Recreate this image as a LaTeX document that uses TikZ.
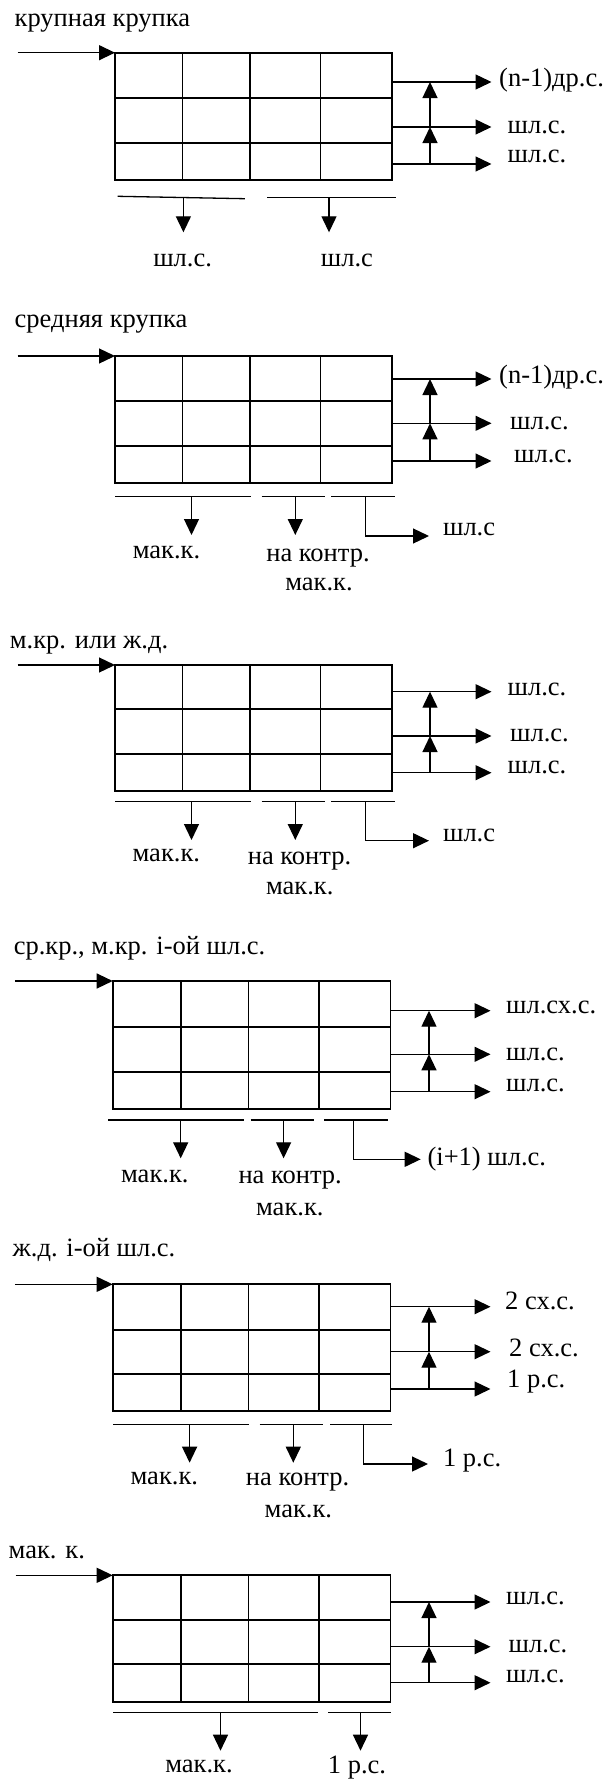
\documentclass[tikz,border=0pt]{standalone}
\usepackage{fontspec}
\setmainfont{Liberation Serif}
\usetikzlibrary{arrows.meta}
\begin{document}
\begin{tikzpicture}[x=1pt,y=-1pt,
  grid/.style={line width=1.7pt},
  flow/.style={line width=1.3pt,-{Triangle[length=16pt,width=15pt]}},
  bar/.style={line width=1.3pt},
  lbl/.style={inner sep=0pt,font=\fontsize{26.5}{30}\selectfont},
]
\fill[white] (0,0) rectangle (606,1785);
\useasboundingbox (0,0) rectangle (606,1785);

% ---------- 1: крупная крупка ----------
\node[lbl,anchor=mid west] (t1) at (14.5,24) {крупная крупка};
\coordinate (in1) at (17.5,52.7);
\coordinate (nw1) at (115,52.7);
\draw[grid] (nw1) rectangle (392,180);
\draw[grid] (182.4,52.7)--(182.4,180) (250,52.7)--(250,180) (320.5,52.7)--(320.5,180)
  (115,98.3)--(392,98.3) (115,143.3)--(392,143.3);
\draw[flow] (in1) -- (nw1);
\coordinate (o1a) at (392,82);    \coordinate (e1a) at (491.5,82);
\coordinate (o1b) at (392,127);   \coordinate (e1b) at (491.5,127);
\coordinate (o1c) at (392,164);   \coordinate (e1c) at (491.5,164);
\draw[flow] (o1a) -- (e1a);
\draw[flow] (o1b) -- (e1b);
\draw[flow] (o1c) -- (e1c);
\coordinate (v1a) at (430,82); \coordinate (v1b) at (430,127); \coordinate (v1c) at (430,164);
\draw[flow] (v1c) -- (v1b);
\draw[flow] (v1b) -- (v1a);
\node[lbl,anchor=mid west] (l1a) at (499,84) {(n-1)др.с.};
\node[lbl,anchor=mid west] (l1b) at (507.5,131) {шл.с.};
\node[lbl,anchor=mid west] (l1c) at (507.5,160) {шл.с.};
\coordinate (s1a) at (117.7,196.3); \coordinate (s1b) at (244.8,198.7);
\coordinate (s1c) at (267.3,197.3); \coordinate (s1d) at (395.5,197.3);
\draw[bar] (s1a) -- (s1b);
\draw[bar] (s1c) -- (s1d);
\coordinate (d1a) at (183.4,197.6); \coordinate (f1a) at (183.4,232.3);
\coordinate (d1b) at (329,197.3);   \coordinate (f1b) at (329,232.3);
\draw[flow] (d1a) -- (f1a);
\draw[flow] (d1b) -- (f1b);
\node[lbl,anchor=mid] (b1a) at (182.6,264) {шл.с.};
\node[lbl,anchor=mid] (b1b) at (347,264) {шл.с};

% ---------- 2: средняя крупка ----------
\node[lbl,anchor=mid west] (t2) at (14.5,325.5) {средняя крупка};
\coordinate (in2) at (17.5,356);
\coordinate (nw2) at (115,356);
\draw[grid] (nw2) rectangle (392,482.7);
\draw[grid] (182.4,356)--(182.4,482.7) (250,356)--(250,482.7) (320.5,356)--(320.5,482.7)
  (115,401)--(392,401) (115,445.7)--(392,445.7);
\draw[flow] (in2) -- (nw2);
\coordinate (o2a) at (392,379);   \coordinate (e2a) at (491.5,379);
\coordinate (o2b) at (392,423.3); \coordinate (e2b) at (491.5,423.3);
\coordinate (o2c) at (392,461);   \coordinate (e2c) at (491.5,461);
\draw[flow] (o2a) -- (e2a);
\draw[flow] (o2b) -- (e2b);
\draw[flow] (o2c) -- (e2c);
\coordinate (v2a) at (430,379); \coordinate (v2b) at (430,423.3); \coordinate (v2c) at (430,461);
\draw[flow] (v2c) -- (v2b);
\draw[flow] (v2b) -- (v2a);
\node[lbl,anchor=mid west] (l2a) at (499,381) {(n-1)др.с.};
\node[lbl,anchor=mid west] (l2b) at (510,427) {шл.с.};
\node[lbl,anchor=mid west] (l2c) at (514,460) {шл.с.};
\coordinate (s2a) at (115.4,496.7); \coordinate (s2b) at (251.4,496.7);
\coordinate (s2c) at (261.5,496.7); \coordinate (s2d) at (324.8,496.7);
\coordinate (s2e) at (331.4,496.7); \coordinate (s2f) at (395.1,496.7);
\draw[bar] (s2a) -- (s2b);
\draw[bar] (s2c) -- (s2d);
\draw[bar] (s2e) -- (s2f);
\coordinate (d2a) at (191.5,496.7); \coordinate (f2a) at (191.5,535);
\coordinate (d2b) at (295.3,496.7); \coordinate (f2b) at (295.3,535);
\coordinate (d2c) at (365.2,496.7); \coordinate (f2c) at (429,536);
\draw[flow] (d2a) -- (f2a);
\draw[flow] (d2b) -- (f2b);
\draw[flow] (d2c) |- (f2c);
\node[lbl,anchor=mid west] (r2) at (442.9,533.3) {шл.с};
\node[lbl,anchor=mid] (b2a) at (166.5,556) {мак.к.};
\node[lbl,anchor=mid] (b2b) at (318,559) {на контр.};
\node[lbl,anchor=mid] (b2c) at (319,588) {мак.к.};

% ---------- 3: м.кр. или ж.д. ----------
\node[lbl,anchor=mid west] (t3) at (9.7,646) {м.кр. или ж.д.};
\coordinate (in3) at (17.5,665);
\coordinate (nw3) at (115,665);
\draw[grid] (nw3) rectangle (392,791);
\draw[grid] (182.4,665)--(182.4,791) (250,665)--(250,791) (320.5,665)--(320.5,791)
  (115,709)--(392,709) (115,754.3)--(392,754.3);
\draw[flow] (in3) -- (nw3);
\coordinate (o3a) at (392,691.7); \coordinate (e3a) at (491.5,691.7);
\coordinate (o3b) at (392,736);   \coordinate (e3b) at (491.5,736);
\coordinate (o3c) at (392,772.7); \coordinate (e3c) at (491.5,772.7);
\draw[flow] (o3a) -- (e3a);
\draw[flow] (o3b) -- (e3b);
\draw[flow] (o3c) -- (e3c);
\coordinate (v3a) at (430,691.7); \coordinate (v3b) at (430,736); \coordinate (v3c) at (430,772.7);
\draw[flow] (v3c) -- (v3b);
\draw[flow] (v3b) -- (v3a);
\node[lbl,anchor=mid west] (l3a) at (507.5,693) {шл.с.};
\node[lbl,anchor=mid west] (l3b) at (510,739.5) {шл.с.};
\node[lbl,anchor=mid west] (l3c) at (507.5,771.5) {шл.с.};
\coordinate (s3a) at (115.4,801.7); \coordinate (s3b) at (251.4,801.7);
\coordinate (s3c) at (261.5,801.7); \coordinate (s3d) at (324.8,801.7);
\coordinate (s3e) at (331.4,801.7); \coordinate (s3f) at (395.1,801.7);
\draw[bar] (s3a) -- (s3b);
\draw[bar] (s3c) -- (s3d);
\draw[bar] (s3e) -- (s3f);
\coordinate (d3a) at (191.5,801.7); \coordinate (f3a) at (191.5,840);
\coordinate (d3b) at (295.3,801.7); \coordinate (f3b) at (295.3,840);
\coordinate (d3c) at (365.2,801.7); \coordinate (f3c) at (429,840.7);
\draw[flow] (d3a) -- (f3a);
\draw[flow] (d3b) -- (f3b);
\draw[flow] (d3c) |- (f3c);
\node[lbl,anchor=mid west] (r3) at (442.9,839.5) {шл.с};
\node[lbl,anchor=mid] (b3a) at (166.3,859) {мак.к.};
\node[lbl,anchor=mid] (b3b) at (299.5,862) {на контр.};
\node[lbl,anchor=mid] (b3c) at (299.7,892) {мак.к.};

% ---------- 4: ср.кр., м.кр. i-ой шл.с. ----------
\node[lbl,anchor=mid west] (t4) at (13.6,952.5) {ср.кр., м.кр. i-ой шл.с.};
\coordinate (in4) at (14.8,981);
\coordinate (nw4) at (112.7,981);
\draw[grid] (nw4) rectangle (390.4,1108.7);
\draw[grid] (180.7,981)--(180.7,1108.7) (248.6,981)--(248.6,1108.7) (319.3,981)--(319.3,1108.7)
  (112.7,1026.7)--(390.4,1026.7) (112.7,1071.7)--(390.4,1071.7);
\draw[flow] (in4) -- (nw4);
\coordinate (o4a) at (390.4,1010.7); \coordinate (e4a) at (490.5,1010.7);
\coordinate (o4b) at (390.4,1054.3); \coordinate (e4b) at (490.5,1054.3);
\coordinate (o4c) at (390.4,1091.7); \coordinate (e4c) at (490.5,1091.7);
\draw[flow] (o4a) -- (e4a);
\draw[flow] (o4b) -- (e4b);
\draw[flow] (o4c) -- (e4c);
\coordinate (v4a) at (429,1010.7); \coordinate (v4b) at (429,1054.3); \coordinate (v4c) at (429,1091.7);
\draw[flow] (v4c) -- (v4b);
\draw[flow] (v4b) -- (v4a);
\node[lbl,anchor=mid west] (l4a) at (506,1011.5) {шл.сх.с.};
\node[lbl,anchor=mid west] (l4b) at (506,1058.5) {шл.с.};
\node[lbl,anchor=mid west] (l4c) at (506,1089.5) {шл.с.};
\coordinate (s4a) at (108,1120);   \coordinate (s4b) at (244,1120);
\coordinate (s4c) at (250.6,1120); \coordinate (s4d) at (313.9,1120);
\coordinate (s4e) at (324.4,1120); \coordinate (s4f) at (387.7,1120);
\draw[bar] (s4a) -- (s4b);
\draw[bar] (s4c) -- (s4d);
\draw[bar] (s4e) -- (s4f);
\coordinate (d4a) at (180.7,1120); \coordinate (f4a) at (180.7,1158.3);
\coordinate (d4b) at (283.6,1120); \coordinate (f4b) at (283.6,1158.3);
\coordinate (d4c) at (353.5,1120); \coordinate (f4c) at (420.7,1159.3);
\draw[flow] (d4a) -- (f4a);
\draw[flow] (d4b) -- (f4b);
\draw[flow] (d4c) |- (f4c);
\node[lbl,anchor=mid west] (r4) at (427.4,1163.3) {(i+1) шл.с.};
\node[lbl,anchor=mid] (b4a) at (154.8,1180) {мак.к.};
\node[lbl,anchor=mid] (b4b) at (290.2,1181) {на контр.};
\node[lbl,anchor=mid] (b4c) at (289.8,1213) {мак.к.};

% ---------- 5: ж.д. i-ой шл.с. ----------
\node[lbl,anchor=mid west] (t5) at (12.4,1254) {ж.д. i-ой шл.с.};
\coordinate (in5) at (14.8,1284.3);
\coordinate (nw5) at (112.7,1284.3);
\draw[grid] (nw5) rectangle (390.4,1411);
\draw[grid] (180.7,1284.3)--(180.7,1411) (248.6,1284.3)--(248.6,1411) (319.3,1284.3)--(319.3,1411)
  (112.7,1330)--(390.4,1330) (112.7,1374)--(390.4,1374);
\draw[flow] (in5) -- (nw5);
\coordinate (o5a) at (390.4,1306.7); \coordinate (e5a) at (490.5,1306.7);
\coordinate (o5b) at (390.4,1351.7); \coordinate (e5b) at (490.5,1351.7);
\coordinate (o5c) at (390.4,1389);   \coordinate (e5c) at (490.5,1389);
\draw[flow] (o5a) -- (e5a);
\draw[flow] (o5b) -- (e5b);
\draw[flow] (o5c) -- (e5c);
\coordinate (v5a) at (429,1306.7); \coordinate (v5b) at (429,1351.7); \coordinate (v5c) at (429,1389);
\draw[flow] (v5c) -- (v5b);
\draw[flow] (v5b) -- (v5a);
\node[lbl,anchor=mid west] (l5a) at (505,1307.5) {2 сх.с.};
\node[lbl,anchor=mid west] (l5b) at (509,1354.5) {2 сх.с.};
\node[lbl,anchor=mid west] (l5c) at (507,1385) {1 р.с.};
\coordinate (s5a) at (113.4,1424.3); \coordinate (s5b) at (248.6,1424.3);
\coordinate (s5c) at (259.5,1424.3); \coordinate (s5d) at (322.5,1424.3);
\coordinate (s5e) at (330.2,1424.3); \coordinate (s5f) at (392.4,1424.3);
\draw[bar] (s5a) -- (s5b);
\draw[bar] (s5c) -- (s5d);
\draw[bar] (s5e) -- (s5f);
\coordinate (d5a) at (189.6,1424.3); \coordinate (f5a) at (189.6,1462.7);
\coordinate (d5b) at (293.3,1424.3); \coordinate (f5b) at (293.3,1462.7);
\coordinate (d5c) at (363.2,1424.3); \coordinate (f5c) at (428,1464);
\draw[flow] (d5a) -- (f5a);
\draw[flow] (d5b) -- (f5b);
\draw[flow] (d5c) |- (f5c);
\node[lbl,anchor=mid west] (r5) at (442.9,1464) {1 р.с.};
\node[lbl,anchor=mid] (b5a) at (164.3,1482.5) {мак.к.};
\node[lbl,anchor=mid] (b5b) at (297.6,1483.5) {на контр.};
\node[lbl,anchor=mid] (b5c) at (298.4,1515.5) {мак.к.};

% ---------- 6: мак. к. ----------
\node[lbl,anchor=mid west] (t6) at (8.5,1556) {мак. к.};
\coordinate (in6) at (15.5,1575.3);
\coordinate (nw6) at (112.7,1575.3);
\draw[grid] (nw6) rectangle (390.4,1701.7);
\draw[grid] (180.7,1575.3)--(180.7,1701.7) (248.6,1575.3)--(248.6,1701.7) (319.3,1575.3)--(319.3,1701.7)
  (112.7,1620)--(390.4,1620) (112.7,1664.3)--(390.4,1664.3);
\draw[flow] (in6) -- (nw6);
\coordinate (o6a) at (390.4,1602);   \coordinate (e6a) at (490.5,1602);
\coordinate (o6b) at (390.4,1646.7); \coordinate (e6b) at (490.5,1646.7);
\coordinate (o6c) at (390.4,1682.7); \coordinate (e6c) at (490.5,1682.7);
\draw[flow] (o6a) -- (e6a);
\draw[flow] (o6b) -- (e6b);
\draw[flow] (o6c) -- (e6c);
\coordinate (v6a) at (429,1602); \coordinate (v6b) at (429,1646.7); \coordinate (v6c) at (429,1682.7);
\draw[flow] (v6c) -- (v6b);
\draw[flow] (v6b) -- (v6a);
\node[lbl,anchor=mid west] (l6a) at (506,1602.5) {шл.с.};
\node[lbl,anchor=mid west] (l6b) at (508.5,1650) {шл.с.};
\node[lbl,anchor=mid west] (l6c) at (506,1680.5) {шл.с.};
\coordinate (s6a) at (113.4,1712.3); \coordinate (s6b) at (317.8,1712.3);
\coordinate (s6c) at (328.3,1712.3); \coordinate (s6d) at (391.2,1712.3);
\draw[bar] (s6a) -- (s6b);
\draw[bar] (s6c) -- (s6d);
\coordinate (d6a) at (220.5,1712.3); \coordinate (f6a) at (220.5,1750.7);
\coordinate (d6b) at (360.5,1712.3); \coordinate (f6b) at (360.5,1750.7);
\draw[flow] (d6a) -- (f6a);
\draw[flow] (d6b) -- (f6b);
\node[lbl,anchor=mid] (b6a) at (199,1770.5) {мак.к.};
\node[lbl,anchor=mid] (b6b) at (357,1771.5) {1 р.с.};
\end{tikzpicture}
\end{document}
